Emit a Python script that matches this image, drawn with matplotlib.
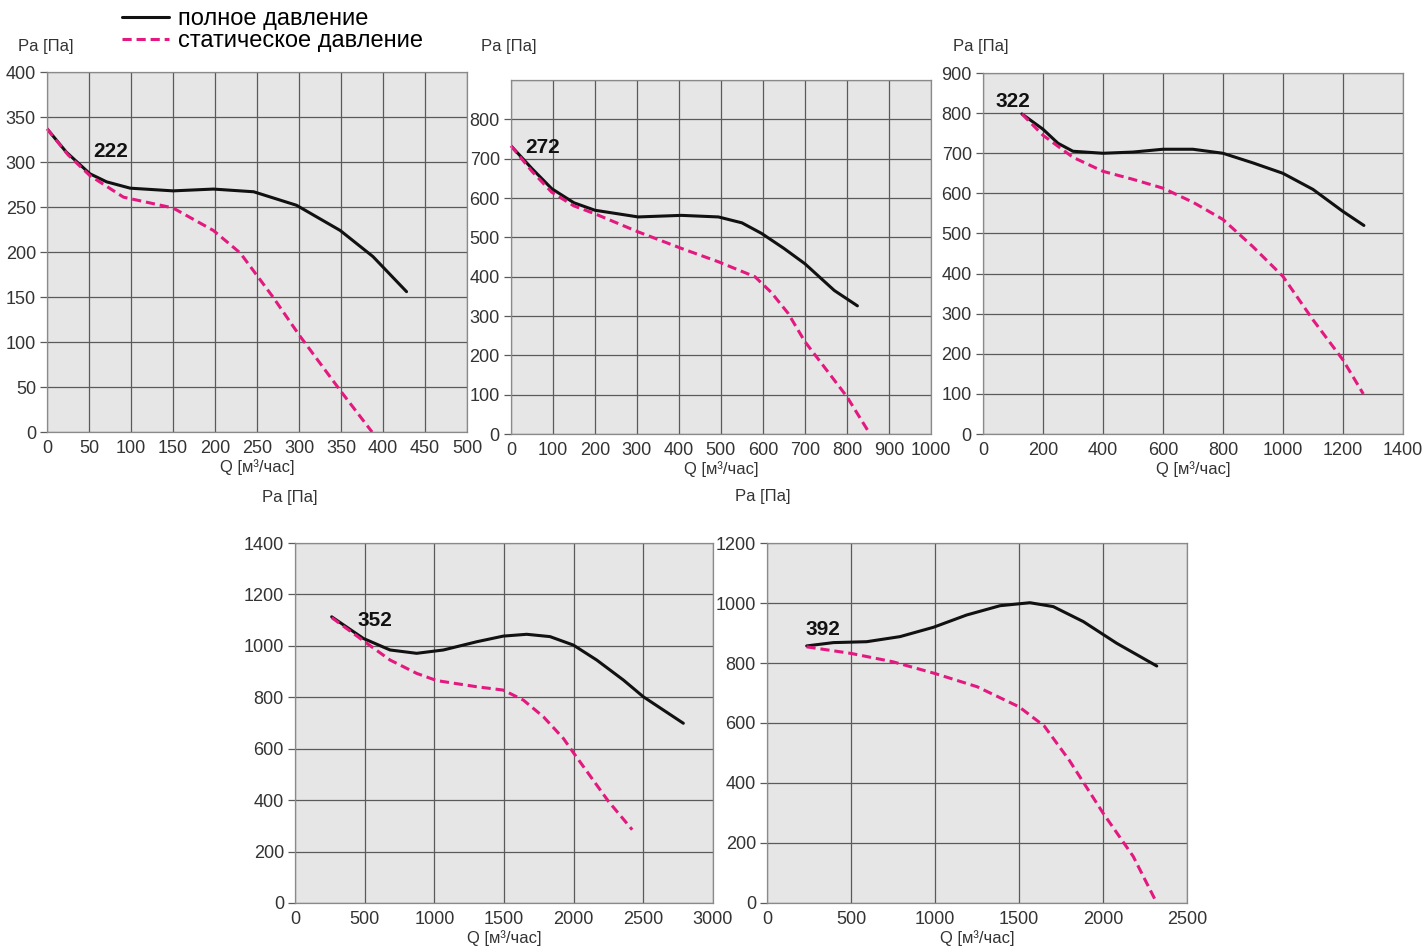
import matplotlib
matplotlib.use('Agg')
import matplotlib.pyplot as plt

plt.rcParams['font.family'] = ['Liberation Sans', 'DejaVu Sans']

# model names
models = ['222', '272', '322', '352', '392']

# 222
q222_tot = [0, 23, 51, 71, 99, 150, 198, 246, 297, 349, 388, 428]
p222_tot = [337, 311, 287, 278, 271, 268, 270, 267, 252, 224, 195, 156]
q222_st = [0, 25, 51, 91, 150, 198, 230, 269, 300, 350, 387]
p222_st = [337, 308, 285, 261, 249, 224, 199, 150, 108, 45, 0]

# 272
q272_tot = [0, 50, 97, 150, 200, 303, 406, 494, 550, 597, 650, 700, 770, 825]
p272_tot = [733, 675, 624, 588, 569, 552, 556, 552, 537, 510, 472, 433, 365, 326]
q272_st = [0, 50, 97, 150, 200, 303, 406, 494, 581, 620, 660, 700, 800, 855]
p272_st = [733, 668, 615, 580, 560, 514, 472, 438, 400, 360, 307, 235, 95, 0]

# 322
q322_tot = [130, 200, 250, 300, 400, 500, 600, 700, 800, 900, 1000, 1100, 1200, 1270]
p322_tot = [798, 760, 725, 705, 700, 703, 710, 710, 700, 676, 650, 610, 555, 520]
q322_st = [130, 200, 300, 400, 500, 600, 700, 800, 900, 1000, 1100, 1200, 1268]
p322_st = [798, 745, 690, 655, 635, 613, 578, 535, 467, 393, 285, 185, 100]

# 352
q352_tot = [263, 490, 682, 873, 1065, 1304, 1495, 1663, 1830, 1998, 2165, 2357, 2500, 2787]
p352_tot = [1113, 1029, 984, 971, 984, 1016, 1038, 1045, 1036, 1003, 945, 867, 802, 699]
q352_st = [263, 490, 682, 873, 1017, 1304, 1495, 1639, 1783, 1926, 2000, 2250, 2420]
p352_st = [1110, 1020, 945, 893, 865, 841, 828, 789, 724, 640, 583, 395, 285]

# 392
q392_tot = [236, 395, 593, 792, 990, 1188, 1387, 1565, 1704, 1883, 2081, 2320]
p392_tot = [857, 868, 871, 888, 919, 960, 991, 1001, 988, 938, 866, 790]
q392_st = [235, 500, 750, 1000, 1250, 1500, 1650, 1800, 2000, 2180, 2320]
p392_st = [854, 832, 804, 765, 721, 654, 590, 475, 300, 155, 0]

# axis setup: xmax, xstep / ymax, ystep, last labelled tick
xlims = [(500, 50), (1000, 100), (1400, 200), (3000, 500), (2500, 500)]
ylims = [(400, 50, 400), (900, 100, 800), (900, 100, 900), (1400, 200, 1400), (1200, 200, 1200)]
label_pos = [(55, 312), (33, 728), (43, 830), (445, 1097), (226, 913)]
ylabel_pos = [(18, 47), (481, 47), (953, 47), (262, 498), (735, 497)]

totals = [(q222_tot, p222_tot), (q272_tot, p272_tot), (q322_tot, p322_tot),
          (q352_tot, p352_tot), (q392_tot, p392_tot)]
statics = [(q222_st, p222_st), (q272_st, p272_st), (q322_st, p322_st),
           (q352_st, p352_st), (q392_st, p392_st)]

rects = [
    [0.033, 0.5457, 0.2945, 0.3785],
    [0.3583, 0.5436, 0.2945, 0.3722],
    [0.6893, 0.5436, 0.2945, 0.3796],
    [0.2069, 0.0505, 0.2931, 0.3785],
    [0.5379, 0.0505, 0.2945, 0.3785],
]

pink = '#e3197f'
W, H = 1426, 951
fig = plt.figure(figsize=(W / 100, H / 100), dpi=100)

handles = None
for i in range(5):
    ax = fig.add_axes(rects[i])
    ax.set_facecolor('#e6e6e6')
    xmax, xstep = xlims[i]
    ymax, ystep, ytop = ylims[i]
    ax.set_xlim(0, xmax)
    ax.set_ylim(0, ymax)
    ax.set_xticks(range(0, xmax + 1, xstep))
    ax.set_yticks(range(0, ytop + 1, ystep))
    ax.grid(True, color='#5a5a5a', linewidth=0.9)
    ax.set_axisbelow(True)
    for s in ax.spines.values():
        s.set_color('#8a8a8a')
        s.set_linewidth(0.9)
    ax.tick_params(axis='both', labelsize=13, labelcolor='#333333', color='#5a5a5a',
                   length=5, width=0.9, pad=3)
    ax.tick_params(axis='x', length=0, pad=6)
    if ymax > ytop:
        ax.axhline(ymax, color='#5a5a5a', linewidth=0.9)

    l1, = ax.plot(totals[i][0], totals[i][1], color='#111111', linewidth=2.2,
                  solid_capstyle='round', solid_joinstyle='round')
    l2, = ax.plot(statics[i][0], statics[i][1], color=pink, linewidth=2.2,
                  linestyle=(0, (3, 1.6)), clip_on=False)
    if handles is None:
        handles = [l1, l2]

    ax.text(label_pos[i][0], label_pos[i][1], models[i], fontsize=15, fontweight='bold',
            ha='left', va='center', color='#111111')
    ax.set_xlabel('Q [м³/час]', fontsize=12, color='#333333', labelpad=1)
    fig.text(ylabel_pos[i][0] / W, 1 - ylabel_pos[i][1] / H, 'Pa [Па]', fontsize=12,
             color='#333333', ha='left', va='center')

fig.legend(handles, ['полное давление', 'статическое давление'], loc='upper left',
           bbox_to_anchor=(0.0856, 0.9916), frameon=False, fontsize=17, handlelength=2.0,
           labelspacing=0.0, handletextpad=0.35, borderpad=0, borderaxespad=0)

fig.savefig('out.png', dpi=100)
